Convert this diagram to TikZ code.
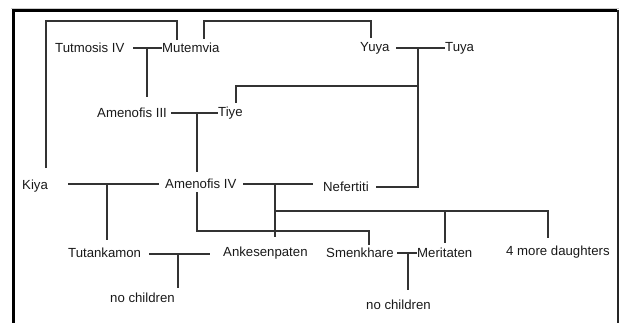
\documentclass[tikz,border=0pt]{standalone}
\usepackage{fontspec}
\setmainfont{Liberation Sans}
\begin{document}
\begin{tikzpicture}[x=1pt,y=-1pt,
  person/.style={anchor=west,inner sep=0pt,font=\fontsize{13.2}{14}\selectfont,text=black!90},
  link/.style={draw=black!80,line width=1.1pt},
  frameline/.style={draw=black,line width=3pt}]
\useasboundingbox (0,0) rectangle (620,323);

% frame (open at the bottom)
\draw[gray!40,line width=0.8pt] (11,8.5) -- (619,8.5);
\draw[frameline] (13,323) -- (13,11) -- (617,11);
\draw[black!85,line width=1.5pt] (618,10) -- (618,323);

% people
\node[person] (tut)   at (55,48)  {Tutmosis IV};
\node[person] (mut)   at (162,48) {Mutemvia};
\node[person] (yuya)  at (360,48) {Yuya};
\node[person] (tuya)  at (445,48) {Tuya};
\node[person] (am3)   at (97,113) {Amenofis III};
\node[person] (tiye)  at (218,113) {Tiye};
\node[person] (kiya)  at (22,186) {Kiya};
\node[person] (am4)   at (165,184) {Amenofis IV};
\node[person] (nef)   at (323,187) {Nefertiti};
\node[person] (tutan) at (68,253) {Tutankamon};
\node[person] (ank)   at (223,253) {Ankesenpaten};
\node[person] (smen)  at (326,253) {Smenkhare};
\node[person] (mer)   at (417,253) {Meritaten};
\node[person] (more)  at (506,252) {4 more daughters};
\node[person] (nc1)   at (110,298) {no children};
\node[person] (nc2)   at (366,305) {no children};

% junction points
\coordinate (jtm) at (147,48);
\coordinate (jyt) at (418,48);
\coordinate (jat) at (197,113);
\coordinate (jka) at (107,184);
\coordinate (jan) at (275,184);
\coordinate (jta) at (178,254);
\coordinate (jsm) at (408,253);

% Tutmosis IV + Mutemvia -> Amenofis III
\draw[link] (133,48) -- (mut.west);
\draw[link] (jtm) -- (147,97);

% Kiya up to Mutemvia, Mutemvia over to Yuya
\draw[link] (46,168) -- (46,21) -- (177,21) -- (177,40);
\draw[link] (204,39) -- (204,21) -- (371,21) -- (371,38);

% Yuya + Tuya -> Tiye, and down to Nefertiti
\draw[link] (396,48) -- (tuya.west);
\draw[link] (jyt) -- (418,187) -- (376,187);
\draw[link] (236,103) -- (236,86) -- (418,86);

% Amenofis III + Tiye -> Amenofis IV
\draw[link] (171,113) -- (tiye.west);
\draw[link] (jat) -- (197,172);

% Kiya + Amenofis IV -> Tutankamon
\draw[link] (68,184) -- (159,184);
\draw[link] (jka) -- (107,240);

% Amenofis IV + Nefertiti -> daughters
\draw[link] (243,184) -- (313,184);
\draw[link] (jan) -- (275,237);
\draw[link] (275,211) -- (548,211) -- (548,238);
\draw[link] (445,211) -- (445,243);

% Amenofis IV -> Smenkhare
\draw[link] (197,192) -- (197,231) -- (369,231) -- (369,245);

% Tutankamon + Ankesenpaten
\draw[link] (149,254) -- (210,254);
\draw[link] (jta) -- (178,288);

% Smenkhare + Meritaten
\draw[link] (397,253) -- (mer.west);
\draw[link] (jsm) -- (408,290);
\end{tikzpicture}
\end{document}
